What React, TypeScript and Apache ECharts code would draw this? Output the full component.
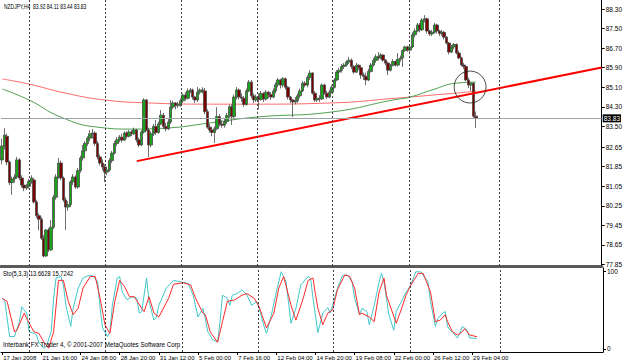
import React, { useEffect, useRef } from "react";
import * as echarts from "echarts";

// ---------- data ----------
// H4 candles: [open, close, low, high]
const candles: number[][] = [
  [82.13, 82.70, 81.95, 83.00], [82.70, 83.15, 82.55, 83.43], [83.10, 82.04, 81.92, 83.20], [82.04, 81.20, 81.10, 82.10],
  [81.20, 81.35, 80.70, 81.45], [81.35, 81.43, 81.20, 81.55], [81.43, 82.13, 81.35, 82.25], [82.13, 81.39, 81.30, 82.20],
  [81.39, 81.10, 81.00, 81.50], [81.10, 80.98, 80.85, 81.20], [80.98, 81.05, 80.90, 81.15], [81.05, 81.25, 80.95, 81.35],
  [81.25, 81.39, 81.15, 81.50], [81.31, 80.41, 80.35, 81.40], [80.41, 79.85, 79.75, 80.50], [79.85, 79.70, 79.25, 79.95],
  [79.70, 78.93, 78.85, 79.80], [78.93, 78.20, 78.14, 79.05], [78.20, 79.26, 78.16, 79.30], [79.26, 78.45, 78.36, 79.35],
  [78.45, 79.38, 78.40, 79.67], [79.38, 80.60, 79.30, 80.70], [80.60, 81.43, 80.50, 81.55], [81.43, 82.00, 81.35, 82.21],
  [82.00, 81.39, 81.30, 82.10], [81.39, 80.49, 80.41, 81.45], [80.49, 80.20, 79.26, 80.60], [80.20, 80.30, 80.05, 80.45],
  [80.30, 81.23, 80.20, 81.30], [81.23, 81.43, 81.10, 81.55], [81.43, 81.02, 80.95, 81.50], [81.02, 81.70, 80.95, 81.80],
  [81.70, 82.21, 81.60, 82.30], [82.21, 82.50, 82.10, 82.74], [82.50, 82.80, 82.40, 82.90], [82.80, 83.02, 82.70, 83.10],
  [83.02, 83.20, 82.90, 83.35], [83.20, 83.23, 83.00, 83.40], [83.23, 82.80, 82.70, 83.30], [82.80, 82.25, 82.15, 82.90],
  [82.25, 82.00, 81.90, 82.35], [82.00, 81.84, 81.70, 82.15], [81.84, 81.63, 81.23, 81.95], [81.63, 81.72, 81.50, 81.85],
  [81.72, 82.10, 81.65, 82.20], [82.10, 82.41, 82.00, 82.50], [82.41, 82.80, 82.35, 82.90], [82.80, 82.95, 82.70, 83.06],
  [82.95, 83.06, 82.85, 83.15], [83.06, 82.94, 82.85, 83.20], [82.94, 83.23, 82.90, 83.30], [83.23, 83.10, 83.00, 83.30],
  [83.10, 83.27, 83.05, 83.35], [83.27, 83.20, 83.10, 83.35], [83.20, 83.35, 83.15, 83.45], [83.35, 82.95, 82.85, 83.40],
  [82.95, 82.74, 82.65, 83.05], [82.74, 83.27, 82.70, 83.35], [83.27, 84.58, 83.20, 84.65], [84.58, 83.35, 83.30, 84.62],
  [83.35, 82.74, 82.25, 83.45], [82.74, 83.20, 82.65, 83.30], [83.20, 83.50, 83.10, 83.60], [83.50, 83.25, 83.15, 83.76],
  [83.25, 83.60, 83.20, 83.70], [83.60, 83.96, 83.55, 84.17], [83.96, 83.50, 83.40, 84.05], [83.50, 83.40, 83.30, 83.65],
  [83.40, 83.68, 83.35, 83.80], [83.68, 84.29, 83.60, 84.58], [84.29, 84.46, 84.20, 84.55], [84.46, 84.35, 84.20, 84.50],
  [84.35, 84.40, 84.25, 84.50], [84.40, 84.55, 84.30, 84.65], [84.55, 84.78, 84.45, 84.85], [84.78, 84.65, 84.55, 84.90],
  [84.65, 84.95, 84.60, 85.05], [84.95, 84.99, 84.85, 85.07], [84.99, 84.70, 84.60, 85.05], [84.70, 84.58, 84.45, 84.75],
  [84.58, 84.90, 84.50, 85.11], [84.90, 84.99, 84.80, 85.05], [84.99, 84.95, 84.85, 85.10], [84.95, 84.10, 84.00, 85.07],
  [84.10, 83.47, 83.40, 84.20], [83.47, 83.35, 83.25, 83.60], [83.35, 83.25, 83.10, 83.45], [83.25, 83.40, 82.82, 83.50],
  [83.40, 83.90, 83.35, 84.29], [83.90, 83.60, 83.50, 84.00], [83.60, 83.55, 83.45, 83.75], [83.55, 83.70, 83.45, 83.80],
  [83.70, 83.95, 83.60, 84.05], [83.95, 84.30, 83.85, 84.40], [84.30, 83.90, 83.56, 84.40], [83.90, 84.70, 83.85, 84.80],
  [84.70, 84.99, 84.60, 85.11], [84.99, 84.70, 84.60, 85.05], [84.70, 84.65, 84.50, 84.85], [84.65, 84.40, 84.30, 84.75],
  [84.40, 84.95, 84.35, 85.05], [84.95, 85.31, 84.90, 85.40], [85.31, 84.75, 84.65, 85.40], [84.75, 84.58, 84.45, 84.85],
  [84.58, 84.70, 84.50, 84.80], [84.70, 84.60, 84.20, 84.85], [84.60, 84.85, 84.55, 84.95], [84.85, 84.62, 84.50, 84.90],
  [84.62, 84.90, 84.55, 84.99], [84.90, 84.80, 84.65, 84.95], [84.80, 84.70, 84.58, 84.90], [84.70, 84.95, 84.65, 85.05],
  [84.95, 85.20, 84.85, 85.30], [85.20, 85.40, 85.10, 85.48], [85.40, 85.19, 85.05, 85.45], [85.19, 85.45, 85.10, 85.52],
  [85.45, 85.10, 85.00, 85.50], [85.10, 84.70, 84.60, 85.15], [84.70, 84.58, 84.45, 84.75], [84.58, 84.50, 83.88, 84.62],
  [84.50, 84.55, 84.40, 84.70], [84.55, 84.75, 84.45, 84.85], [84.75, 84.95, 84.65, 85.05], [84.95, 85.27, 84.90, 85.35],
  [85.27, 85.19, 85.10, 85.35], [85.19, 85.50, 85.10, 85.60], [85.50, 85.68, 85.40, 85.80], [85.68, 84.86, 84.80, 85.72],
  [84.86, 84.58, 84.50, 84.95], [84.58, 84.65, 84.50, 84.75], [84.65, 84.62, 84.50, 84.78], [84.62, 85.19, 84.58, 85.25],
  [85.19, 84.86, 84.80, 85.25], [84.86, 84.70, 84.62, 84.95], [84.70, 84.90, 84.65, 85.00], [84.90, 85.10, 84.85, 85.19],
  [85.10, 85.40, 85.05, 85.48], [85.40, 85.72, 85.35, 85.80], [85.72, 85.80, 85.65, 85.90], [85.80, 85.95, 85.70, 86.05],
  [85.95, 86.01, 85.85, 86.09], [86.01, 86.13, 85.95, 86.20], [86.13, 86.21, 86.05, 86.34], [86.21, 85.95, 85.85, 86.28],
  [85.95, 85.72, 85.65, 86.00], [85.72, 86.00, 85.68, 86.10], [86.00, 85.90, 85.80, 86.05], [85.90, 85.60, 85.45, 85.95],
  [85.60, 85.55, 85.40, 85.70], [85.55, 85.40, 85.19, 85.70], [85.40, 85.75, 85.35, 85.85], [85.75, 86.01, 85.70, 86.09],
  [86.01, 86.20, 85.95, 86.30], [86.20, 86.35, 86.10, 86.45], [86.35, 86.30, 86.20, 86.54], [86.30, 86.42, 86.25, 86.50],
  [86.42, 86.21, 86.15, 86.45], [86.21, 86.09, 86.00, 86.25], [86.09, 85.80, 85.60, 86.15], [85.80, 86.00, 85.75, 86.05],
  [86.00, 86.15, 85.95, 86.25], [86.15, 86.01, 85.95, 86.20], [86.01, 86.25, 85.95, 86.50], [86.25, 86.30, 86.15, 86.40],
  [86.30, 86.60, 85.93, 86.65], [86.60, 86.75, 86.55, 86.80], [86.75, 86.62, 86.55, 86.80], [86.62, 86.75, 86.55, 86.80],
  [86.75, 87.25, 86.70, 87.35], [87.25, 87.40, 87.15, 87.50], [87.40, 87.65, 87.35, 87.73], [87.65, 87.45, 87.35, 87.73],
  [87.45, 87.85, 87.40, 87.93], [87.85, 87.90, 87.75, 88.05], [87.90, 87.40, 87.30, 87.95], [87.40, 87.28, 87.20, 87.45],
  [87.28, 87.35, 87.20, 87.45], [87.35, 87.65, 87.30, 87.73], [87.65, 87.40, 87.30, 87.70], [87.40, 87.30, 87.20, 87.45],
  [87.30, 87.35, 87.20, 87.45], [87.35, 87.15, 87.05, 87.40], [87.15, 86.91, 86.85, 87.20], [86.91, 86.54, 86.45, 86.95],
  [86.54, 86.75, 86.50, 86.83], [86.75, 86.85, 86.65, 86.91], [86.85, 86.50, 86.45, 86.90], [86.50, 86.30, 86.25, 86.60],
  [86.30, 86.01, 85.95, 86.35], [86.01, 85.95, 85.85, 86.10], [85.95, 85.40, 85.35, 86.00], [85.40, 85.19, 85.07, 85.50],
  [85.19, 85.27, 84.95, 85.31], [85.27, 83.92, 83.85, 85.30], [83.92, 83.83, 83.44, 84.11],
];

// moving averages: [bar index, price]
const maRed: number[][] = [
  [0, 85.44], [11, 85.23], [26, 84.86], [42, 84.58], [60, 84.46], [85, 84.41], [104, 84.41],
  [135, 84.46], [162, 84.66], [176, 84.78], [190, 84.90], [194, 84.95],
];
const maGreen: number[][] = [
  [0, 85.03], [11, 84.58], [24, 83.88], [39, 83.47], [53, 83.39], [67, 83.43], [85, 83.64],
  [104, 83.88], [135, 84.09], [160, 84.58], [167, 84.70], [176, 84.99], [186, 85.27], [194, 85.31],
];

// hand-drawn trend line and circle annotation: [bar index, price]
const trendLine: number[][] = [[55.1, 82.08], [245.5, 85.91]];
const circleMark: number[][] = [[191.6, 85.11]];
const lastPrice = 83.83;

// stochastic (5,3,3): [bar index, value]
const stochMain: number[][] = [
  [0, 65], [1, 63], [3, 16], [5, 16], [7, 35], [8, 54], [10, 46], [11, 22], [13, 20], [14, 18], [15, 8], [17, 1],
  [18, 3], [20, 22], [21, 65], [22, 91], [24, 93], [25, 82], [26, 56], [28, 29], [29, 52], [31, 78], [33, 91],
  [35, 94], [37, 94], [39, 86], [40, 52], [41, 27], [43, 16], [44, 22], [45, 56], [47, 91], [48, 93], [49, 73],
  [51, 63], [52, 65], [53, 67], [55, 65], [56, 46], [57, 48], [59, 91], [60, 61], [62, 37], [63, 41], [64, 56],
  [67, 78], [70, 88], [73, 86], [76, 84], [78, 69], [80, 41], [82, 52], [83, 39], [84, 22], [86, 12], [88, 9],
  [89, 35], [90, 69], [92, 65], [93, 56], [94, 69], [96, 71], [98, 76], [100, 69], [102, 56], [104, 61], [105, 52],
  [107, 29], [108, 20], [110, 44], [112, 73], [114, 99], [116, 86], [118, 33], [120, 52], [122, 82], [125, 93],
  [126, 91], [127, 65], [129, 21], [131, 46], [133, 53], [134, 46], [135, 56], [137, 78], [139, 94], [141, 95],
  [143, 86], [144, 65], [146, 44], [147, 52], [149, 48], [150, 31], [152, 56], [154, 86], [155, 97], [156, 86],
  [157, 65], [158, 44], [160, 24], [161, 48], [163, 60], [165, 73], [167, 82], [169, 99], [171, 99], [174, 86],
  [175, 61], [177, 29], [178, 39], [180, 46], [181, 48], [182, 29], [183, 24], [184, 22], [186, 14], [187, 20],
  [188, 29], [190, 24], [191, 14], [194, 13.66],
];
const stochSignal: number[][] = [
  [0, 65], [2, 61], [5, 22], [6, 24], [9, 46], [10, 39], [13, 22], [15, 20], [17, 9], [19, 1], [21, 22], [23, 88],
  [25, 88], [27, 61], [29, 44], [31, 52], [33, 78], [36, 93], [38, 93], [40, 65], [42, 31], [44, 20], [46, 61],
  [48, 88], [50, 80], [52, 67], [54, 67], [57, 52], [58, 48], [60, 67], [62, 46], [64, 41], [68, 65], [70, 83],
  [74, 85], [77, 82], [79, 65], [82, 46], [83, 44], [85, 22], [88, 8.5], [90, 35], [92, 61], [95, 63], [98, 69],
  [100, 71], [103, 65], [105, 54], [108, 27], [111, 46], [113, 78], [115, 93], [118, 56], [120, 37], [123, 65],
  [125, 88], [127, 91], [128, 70], [129, 52], [131, 31], [133, 46], [135, 50], [137, 76], [140, 95], [142, 93],
  [144, 78], [146, 44], [147, 46], [150, 41], [152, 35], [154, 73], [156, 91], [157, 69], [161, 33], [163, 50],
  [165, 69], [167, 82], [170, 97], [172, 97], [175, 73], [177, 35], [179, 37], [181, 44], [182, 35], [184, 22],
  [186, 18], [188, 22], [189, 26], [191, 18], [194, 15.72],
];

const priceTicks = [88.30, 87.50, 86.70, 85.90, 85.10, 84.30, 83.50, 82.65, 81.85, 81.05, 80.25, 79.45, 78.65, 77.85];
const stochTicks = [0, 100];
const dateLabels = [
  "17 Jan 2008", "21 Jan 16:00", "24 Jan 08:00", "28 Jan 20:00", "31 Jan 12:00", "5 Feb 00:00", "7 Feb 16:00",
  "12 Feb 04:00", "14 Feb 20:00", "19 Feb 08:00", "22 Feb 00:00", "26 Feb 12:00", "29 Feb 04:00",
];
const gridBars = [10.9, 42.0, 73.5, 104.5, 135.2, 166.6, 203.4];
const SLOTS = 246;
const LABEL_EVERY = 16;

const titleText = "NZDJPY,H4  83.92 84.11 83.44 83.83";
const stochText = "Sto(5,3,3) 13.6628 15.7242";
const copyText = "Interbank FX Trader 4, \u00A9 2001-2007 MetaQuotes Software Corp";

const FONT = "'Liberation Sans Narrow', 'Liberation Sans', Arial, sans-serif";

export default function App() {
  const ref = useRef<HTMLDivElement>(null);

  useEffect(() => {
    if (!ref.current) return;
    const chart = echarts.init(ref.current, null, { renderer: "svg" });
    const cats = Array.from({ length: SLOTS }, (_, i) => String(i));
    const showLabel = (i: number) => i % LABEL_EVERY === 0 && i / LABEL_EVERY < dateLabels.length;

    const gridLineMark = {
      silent: true,
      symbol: "none",
      label: { show: false },
      lineStyle: { color: "#404040", type: [2, 2], width: 1 },
      data: gridBars.map((b) => ({ xAxis: b })),
    };

    const option: any = {
      animation: false,
      backgroundColor: "#ffffff",
      textStyle: { fontFamily: FONT },
      grid: [
        { left: 1, top: 0, width: 602, height: 266 },
        { left: 1, top: 268, width: 602, height: 84 },
      ],
      xAxis: [
        {
          type: "category", gridIndex: 0, data: cats, boundaryGap: true,
          axisLine: { show: true, onZero: false, lineStyle: { color: "#5a5a5a", width: 3 } },
          axisTick: { show: false }, axisLabel: { show: false }, splitLine: { show: false },
        },
        { type: "value", gridIndex: 0, min: -0.5, max: SLOTS - 0.5, show: false },
        {
          type: "category", gridIndex: 1, data: cats, boundaryGap: true,
          axisLine: { show: true, onZero: false, lineStyle: { color: "#000", width: 1 } },
          axisTick: { show: true, alignWithLabel: true, interval: (i: number) => showLabel(i), length: 3, lineStyle: { color: "#000" } },
          axisLabel: {
            show: true, interval: (i: number) => showLabel(i), align: "left", margin: 3, padding: [0, 0, 0, 1],
            fontSize: 6, color: "#000", fontFamily: FONT,
            formatter: (_v: string, i: number) => (showLabel(i) ? dateLabels[i / LABEL_EVERY] : ""),
          },
          splitLine: { show: false },
        },
        { type: "value", gridIndex: 1, min: -0.5, max: SLOTS - 0.5, show: false },
      ],
      yAxis: [
        {
          type: "value", gridIndex: 0, position: "right", min: 77.79, max: 88.67,
          axisLine: { show: true, onZero: false, lineStyle: { color: "#000", width: 1 } },
          axisTick: { show: true, length: 3, customValues: priceTicks, lineStyle: { color: "#000" } },
          axisLabel: {
            show: true, customValues: priceTicks, margin: 4, fontSize: 6.5, color: "#000", fontFamily: FONT,
            formatter: (v: number) => v.toFixed(2),
          },
          splitLine: { show: false },
        },
        {
          type: "value", gridIndex: 1, position: "right", min: -3.85, max: 103.85,
          axisLine: { show: true, onZero: false, lineStyle: { color: "#000", width: 1 } },
          axisTick: { show: true, length: 3, customValues: stochTicks, lineStyle: { color: "#000" } },
          axisLabel: {
            show: true, customValues: stochTicks, margin: 4, fontSize: 6.5, color: "#000", fontFamily: FONT,
            formatter: (v: number) => String(Math.round(v)),
          },
          splitLine: { show: false },
        },
      ],
      series: [
        {
          type: "line", xAxisIndex: 1, yAxisIndex: 0, data: [], silent: true, z: 1,
          markLine: gridLineMark,
        },
        {
          type: "line", xAxisIndex: 3, yAxisIndex: 1, data: [], silent: true, z: 1,
          markLine: gridLineMark,
        },
        {
          type: "line", xAxisIndex: 1, yAxisIndex: 0, data: maRed, smooth: true, symbol: "none", z: 2,
          lineStyle: { color: "#ff6a6a", width: 1 },
        },
        {
          type: "line", xAxisIndex: 1, yAxisIndex: 0, data: maGreen, smooth: true, symbol: "none", z: 2,
          lineStyle: { color: "#4f9f4f", width: 1 },
        },
        {
          type: "candlestick", xAxisIndex: 0, yAxisIndex: 0, data: candles, barWidth: 3, z: 3,
          itemStyle: {
            color: "#1aa31a", color0: "#7a0000",
            borderColor: "#4a4a4a", borderColor0: "#4a4a4a", borderWidth: 0.8,
          },
          markLine: {
            silent: true, symbol: "none",
            lineStyle: { color: "#9aa4aa", type: "solid", width: 1 },
            label: {
              show: true, position: "end", distance: 1, formatter: lastPrice.toFixed(2),
              backgroundColor: "#000", color: "#fff", padding: [1, 1, 0, 1], fontSize: 6.5, fontFamily: FONT,
            },
            data: [{ yAxis: lastPrice }],
          },
        },
        {
          type: "line", xAxisIndex: 1, yAxisIndex: 0, data: trendLine, symbol: "none", z: 4,
          lineStyle: { color: "#ff0000", width: 2 },
        },
        {
          type: "scatter", xAxisIndex: 1, yAxisIndex: 0, data: circleMark, symbol: "circle", symbolSize: 32, z: 5,
          itemStyle: { color: "rgba(0,0,0,0)", borderColor: "#222", borderWidth: 1 },
        },
        {
          type: "line", xAxisIndex: 3, yAxisIndex: 1, data: stochMain, symbol: "none", z: 3,
          lineStyle: { color: "#40c8c8", width: 1 },
        },
        {
          type: "line", xAxisIndex: 3, yAxisIndex: 1, data: stochSignal, symbol: "none", z: 4,
          lineStyle: { color: "#ff2a2a", width: 1 },
        },
      ],
      graphic: [
        { type: "text", x: 4, y: 2, scaleX: 0.62, z: 10, style: { text: titleText, fontSize: 8, fill: "#000", fontFamily: FONT } },
        { type: "text", x: 3, y: 269, scaleX: 0.72, z: 10, style: { text: stochText, fontSize: 8, fill: "#000", fontFamily: FONT } },
        { type: "text", x: 3, y: 341, scaleX: 0.78, z: 10, style: { text: copyText, fontSize: 8, fill: "#000", fontFamily: FONT } },
      ],
    };

    chart.setOption(option);
    return () => chart.dispose();
  }, []);

  return <div ref={ref} style={{ position: "fixed", left: 0, top: 0, width: 625, height: 363 }} />;
}
